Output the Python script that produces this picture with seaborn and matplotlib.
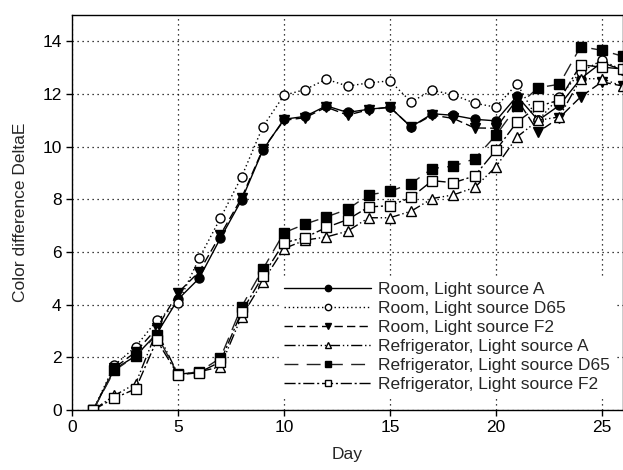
import matplotlib
matplotlib.use("Agg")
import matplotlib.pyplot as plt
import seaborn as sns
import pandas as pd

days = list(range(1, 27))

room_a = [0, 1.55, 2.05, 2.9, 4.2, 5.0, 6.52, 7.97, 9.86, 11.04, 11.15, 11.55, 11.3, 11.42, 11.5,
          10.75, 11.25, 11.19, 11.04, 10.98, 11.92, 11.0, 11.57, 12.58, 13.2, 12.9]
room_d65 = [0, 1.7, 2.4, 3.4, 4.05, 5.76, 7.28, 8.85, 10.75, 11.95, 12.17, 12.56, 12.3, 12.42, 12.5,
            11.7, 12.14, 11.97, 11.65, 11.5, 12.39, 11.0, 11.89, 12.84, 13.28, 12.9]
room_f2 = [0, 1.6, 2.2, 3.1, 4.45, 5.25, 6.65, 8.05, 9.9, 11.0, 11.1, 11.5, 11.2, 11.4, 11.5,
           10.75, 11.2, 11.07, 10.71, 10.7, 11.8, 10.56, 11.1, 11.89, 12.46, 12.3]
ref_a = [0, 0.55, 1.0, 3.0, 1.35, 1.45, 1.64, 3.55, 4.87, 6.13, 6.45, 6.57, 6.79, 7.3, 7.3,
         7.55, 8.03, 8.17, 8.45, 9.23, 10.37, 11.0, 11.13, 12.58, 12.58, 12.29]
ref_d65 = [0, 1.5, 2.05, 2.85, 1.35, 1.45, 1.97, 3.92, 5.34, 6.73, 7.06, 7.33, 7.62, 8.17, 8.3,
           8.6, 9.17, 9.26, 9.54, 10.43, 11.53, 12.24, 12.37, 13.8, 13.66, 13.43]
ref_f2 = [0, 0.45, 0.8, 2.65, 1.33, 1.42, 1.83, 3.72, 5.08, 6.35, 6.55, 6.93, 7.23, 7.71, 7.76,
          8.07, 8.71, 8.63, 8.89, 9.86, 10.94, 11.53, 11.77, 13.11, 13.02, 12.95]

labels = ["Room, Light source A", "Room, Light source D65", "Room, Light source F2",
          "Refrigerator, Light source A", "Refrigerator, Light source D65",
          "Refrigerator, Light source F2"]
series = [room_a, room_d65, room_f2, ref_a, ref_d65, ref_f2]

styles = [
    dict(linestyle="-", marker="o", mfc="black", color="black"),
    dict(linestyle=(0, (1, 2)), marker="o", mfc="white", color="black"),
    dict(linestyle=(0, (6, 3)), marker="v", mfc="black", color="black"),
    dict(linestyle=(0, (8, 2, 1, 2, 1, 2)), marker="^", mfc="white", color="black"),
    dict(linestyle=(0, (10, 6)), marker="s", mfc="black", color="#222222"),
    dict(linestyle=(0, (8, 2, 1.5, 2)), marker="s", mfc="white", color="black"),
]

sns.set_style("ticks")
plt.rcParams["font.family"] = ["Liberation Sans", "DejaVu Sans"]

FS = 12.5
fig = plt.figure(figsize=(6.23, 4.70), dpi=100)
ax = fig.add_axes([0.1156, 0.1277, 0.8844, 0.8404])

for lab, vals, st in zip(labels, series, styles):
    df = pd.DataFrame({"Day": days, "val": vals})
    sns.lineplot(data=df, x="Day", y="val", ax=ax, label=lab,
                 color=st["color"], linestyle=st["linestyle"], linewidth=1.0,
                 marker=st["marker"], markersize=6.5, markerfacecolor=st["mfc"],
                 markeredgecolor="black", markeredgewidth=1.0)

ax.set_xlim(0, 26)
ax.set_ylim(0, 15)
ax.set_xticks([0, 5, 10, 15, 20, 25])
ax.set_yticks([0, 2, 4, 6, 8, 10, 12, 14])
ax.grid(True, linestyle=(0, (1, 3)), color="black", linewidth=0.9)
ax.set_axisbelow(True)
ax.tick_params(axis="both", direction="out", length=4, width=1, labelsize=FS, colors="black")
for sp in ax.spines.values():
    sp.set_visible(True)
    sp.set_color("black")
    sp.set_linewidth(1.0)
ax.set_xlabel("Day", fontsize=FS, labelpad=8)
ax.set_ylabel("Color difference DeltaE", fontsize=FS, labelpad=10)

leg = ax.legend(loc="lower left", bbox_to_anchor=(0.36, 0.01), fontsize=FS,
                handlelength=5.0, handletextpad=0.4, labelspacing=0.22,
                markerscale=0.7, frameon=True, fancybox=False, borderpad=0.3)
leg.get_frame().set_facecolor("white")
leg.get_frame().set_edgecolor("white")
leg.get_frame().set_alpha(1.0)

fig.savefig("out.png", dpi=100)
